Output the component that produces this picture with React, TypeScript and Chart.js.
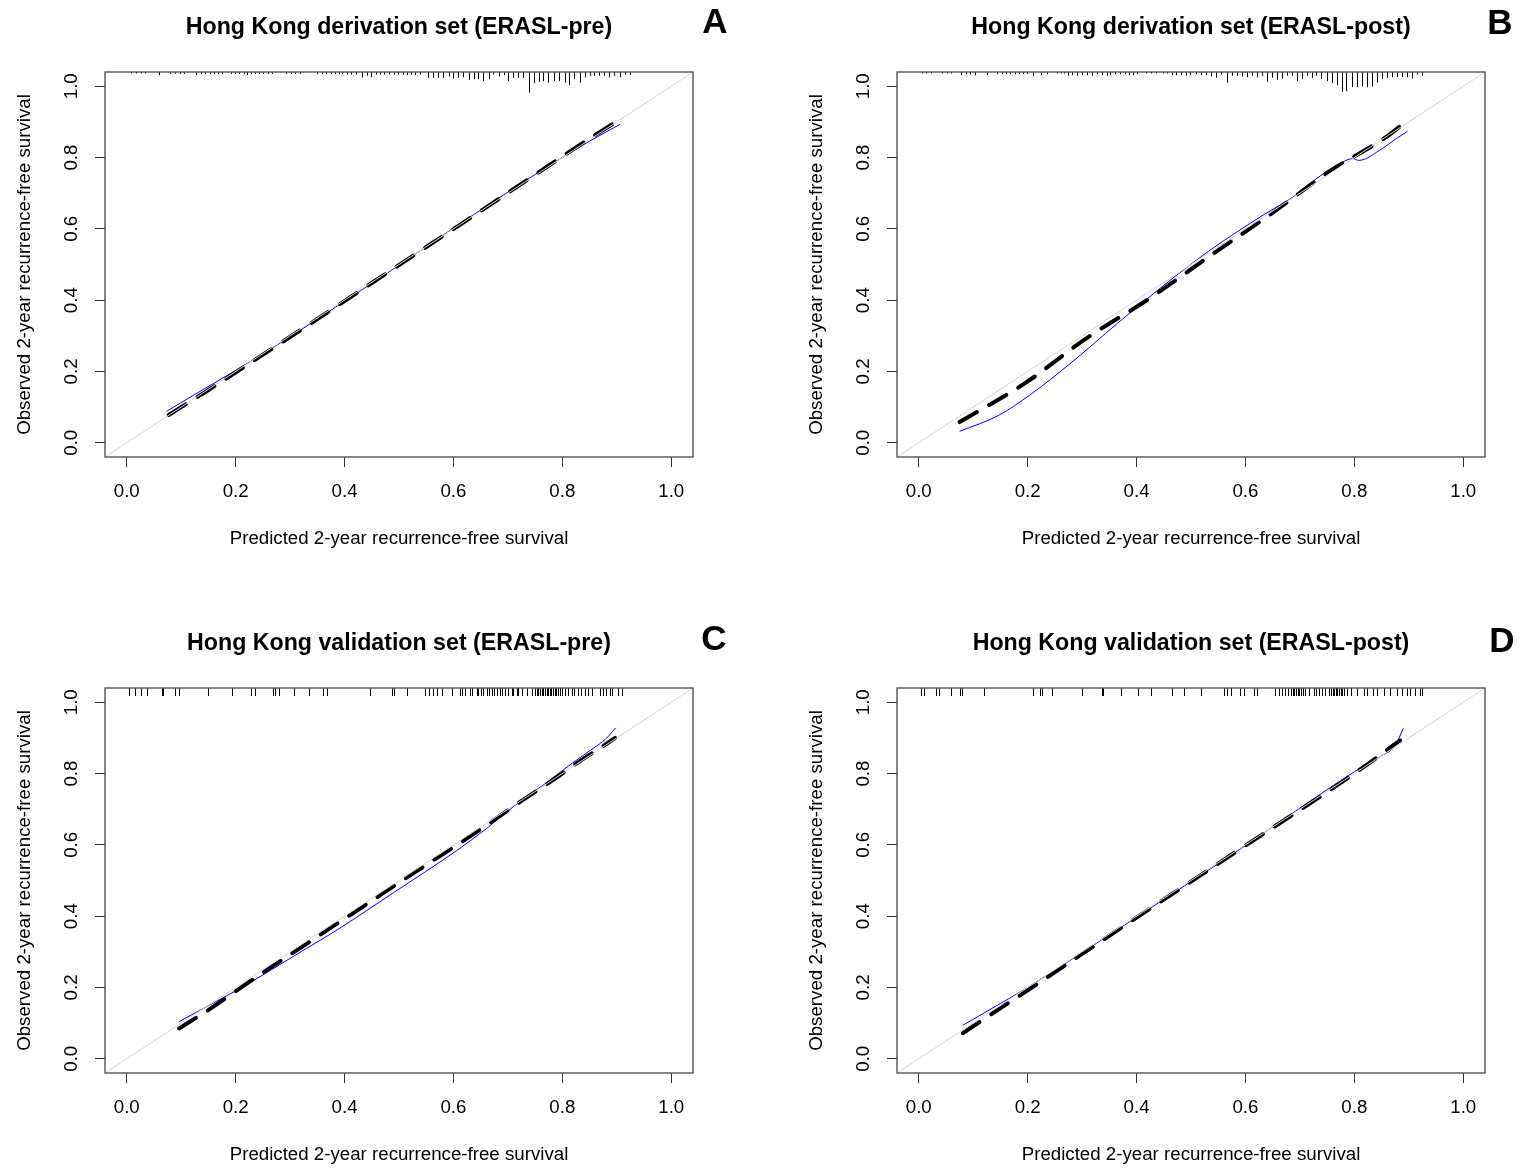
import React, { useEffect, useRef } from 'react';
import { Chart, registerables } from 'chart.js';

Chart.register(...registerables);

// ---------- shared axis data ----------
const AXIS_TICKS = [0, 0.2, 0.4, 0.6, 0.8, 1.0];
const AXIS_MIN = -0.04;
const AXIS_MAX = 1.04;
const X_TITLE = 'Predicted 2-year recurrence-free survival';
const Y_TITLE = 'Observed 2-year recurrence-free survival';

const PANEL_TITLES = [
  'Hong Kong derivation set (ERASL-pre)',
  'Hong Kong derivation set (ERASL-post)',
  'Hong Kong validation set (ERASL-pre)',
  'Hong Kong validation set (ERASL-post)',
];
const PANEL_LETTERS = ['A', 'B', 'C', 'D'];

// ---------- Panel A ----------
const A_DASH_X = [0.077, 0.15, 0.25, 0.35, 0.45, 0.55, 0.65, 0.75, 0.85, 0.906];
const A_DASH_Y = [0.078, 0.148, 0.247, 0.347, 0.448, 0.549, 0.65, 0.752, 0.853, 0.907];
const A_BLUE_X = [0.073, 0.12, 0.2, 0.3, 0.4, 0.5, 0.6, 0.7, 0.77, 0.8, 0.85, 0.906];
const A_BLUE_Y = [0.088, 0.131, 0.203, 0.297, 0.397, 0.498, 0.602, 0.703, 0.772, 0.8, 0.846, 0.893];
const A_RUG_X = [0.007,0.017,0.026,0.034,0.060,0.080,0.088,0.097,0.106,0.127,0.136,0.144,0.152,0.160,0.167,0.174,0.192,0.199,0.207,0.215,0.221,0.229,0.236,0.243,0.251,0.259,0.267,0.293,0.302,0.309,0.319,0.349,0.358,0.366,0.375,0.383,0.389,0.396,0.405,0.412,0.421,0.432,0.441,0.449,0.457,0.465,0.473,0.482,0.490,0.499,0.507,0.515,0.522,0.530,0.539,0.554,0.562,0.571,0.580,0.591,0.600,0.608,0.618,0.628,0.637,0.646,0.655,0.665,0.673,0.683,0.693,0.701,0.710,0.719,0.728,0.739,0.748,0.757,0.765,0.774,0.785,0.794,0.804,0.812,0.822,0.832,0.842,0.850,0.859,0.867,0.876,0.886,0.895,0.906,0.915,0.925];
const A_RUG_FREQ = [1,1,1,1,2.7,1.3,1.3,1.3,1.3,2.7,1.7,1.7,1.7,1.7,1.7,1.7,1.3,1.3,1.3,1.3,2.7,1.7,1.3,1.3,1.3,1.3,1.3,1.3,1.3,1.3,1.3,1.7,1.7,1.7,1.7,1.7,1.7,1.7,2,2,2,4.7,3.3,4.7,2,2,2,2,2,2,2,2.7,2,2.7,2,5.3,5.3,5.3,5.3,4,6,5.3,4.7,7.3,6.7,6.7,8.7,6.7,2,4,2.7,8.7,5.3,5.3,5.3,20,10.7,9.3,8.7,10,8.7,8.7,10,12.7,6.7,10,4.7,3.3,3.3,3.3,3.3,4.7,3.3,4.7,2,2.7];

// ---------- Panel B ----------
const B_DASH_X = [0.075, 0.198, 0.307, 0.423, 0.532, 0.648, 0.757, 0.859, 0.898];
const B_DASH_Y = [0.058, 0.17, 0.292, 0.404, 0.521, 0.643, 0.764, 0.858, 0.905];
const B_BLUE_X = [0.075, 0.147, 0.205, 0.278, 0.365, 0.467, 0.532, 0.583, 0.634, 0.692, 0.735, 0.771, 0.797, 0.808, 0.851, 0.877, 0.898];
const B_BLUE_Y = [0.032, 0.077, 0.135, 0.222, 0.335, 0.462, 0.537, 0.59, 0.64, 0.694, 0.746, 0.781, 0.797, 0.792, 0.825, 0.853, 0.874];
const B_RUG_X = [0.005,0.013,0.022,0.043,0.051,0.060,0.078,0.086,0.094,0.103,0.125,0.143,0.152,0.160,0.168,0.176,0.184,0.192,0.199,0.209,0.225,0.235,0.254,0.262,0.267,0.274,0.282,0.291,0.300,0.309,0.319,0.328,0.336,0.345,0.352,0.361,0.369,0.378,0.386,0.394,0.401,0.418,0.427,0.435,0.449,0.456,0.465,0.473,0.482,0.490,0.498,0.510,0.519,0.527,0.536,0.545,0.555,0.566,0.576,0.585,0.594,0.603,0.612,0.621,0.631,0.640,0.649,0.658,0.667,0.676,0.686,0.695,0.704,0.713,0.722,0.730,0.739,0.749,0.759,0.768,0.777,0.785,0.796,0.805,0.814,0.823,0.832,0.842,0.851,0.860,0.869,0.878,0.887,0.897,0.906,0.915,0.925];
const B_RUG_FREQ = [1,1,1,1,1,1,2.7,1.7,1.7,2.7,2.7,1.7,1.7,1.7,1.7,1.7,1.7,1.7,1.3,3.3,2.7,1.7,1,1,1,3.3,2.7,3.3,2.7,2.7,3.3,1.7,2.7,3.3,2.7,1.7,1.7,1.7,2.7,2.7,1.7,1,1,1,1,1,2.7,2.7,2.7,3.3,2.7,1.7,2.7,2.7,4,5.3,2,10,3.3,3.3,4,4.7,3.3,4.7,3.3,9.3,5.3,7.3,6,3.3,3.3,8.7,6.7,3.3,5.3,3.3,6.7,8.7,10.7,12.7,19.3,18.7,14.7,14.7,14,14.7,14,10,6.7,5.3,4.7,4.7,4.7,4.7,6,2,3.3];

// ---------- Panel C ----------
const C_DASH_X = [0.096, 0.155, 0.211, 0.271, 0.331, 0.383, 0.443, 0.496, 0.549, 0.608, 0.668, 0.721, 0.781, 0.837, 0.872, 0.897];
const C_DASH_Y = [0.085, 0.142, 0.201, 0.263, 0.323, 0.376, 0.436, 0.49, 0.543, 0.601, 0.663, 0.719, 0.78, 0.84, 0.874, 0.9];
const C_BLUE_X = [0.096, 0.155, 0.211, 0.264, 0.323, 0.387, 0.443, 0.492, 0.549, 0.605, 0.661, 0.714, 0.767, 0.819, 0.858, 0.879, 0.898];
const C_BLUE_Y = [0.104, 0.153, 0.2, 0.248, 0.303, 0.362, 0.418, 0.468, 0.525, 0.583, 0.646, 0.712, 0.77, 0.83, 0.872, 0.896, 0.928];
const C_RUG_X = [0.004,0.015,0.027,0.037,0.064,0.067,0.089,0.095,0.149,0.193,0.229,0.236,0.268,0.273,0.279,0.308,0.335,0.361,0.368,0.447,0.487,0.490,0.514,0.548,0.555,0.563,0.569,0.579,0.597,0.612,0.615,0.621,0.631,0.634,0.643,0.646,0.651,0.655,0.661,0.665,0.670,0.675,0.680,0.686,0.690,0.695,0.700,0.707,0.710,0.716,0.719,0.725,0.735,0.744,0.750,0.753,0.756,0.759,0.762,0.765,0.768,0.771,0.774,0.777,0.780,0.783,0.786,0.789,0.792,0.795,0.799,0.805,0.811,0.817,0.822,0.828,0.835,0.842,0.848,0.854,0.869,0.875,0.881,0.887,0.892,0.903,0.909];

// ---------- Panel D ----------
const D_DASH_X = [0.081, 0.15, 0.2, 0.3, 0.4, 0.5, 0.6, 0.7, 0.8, 0.884];
const D_DASH_Y = [0.072, 0.142, 0.192, 0.294, 0.396, 0.497, 0.598, 0.698, 0.8, 0.893];
const D_BLUE_X = [0.081, 0.15, 0.2, 0.3, 0.4, 0.5, 0.6, 0.7, 0.8, 0.85, 0.875, 0.89];
const D_BLUE_Y = [0.094, 0.155, 0.2, 0.298, 0.397, 0.497, 0.598, 0.703, 0.805, 0.85, 0.878, 0.927];
const D_RUG_X = [0.004,0.009,0.031,0.037,0.059,0.076,0.080,0.119,0.209,0.223,0.227,0.245,0.299,0.337,0.339,0.372,0.403,0.427,0.465,0.487,0.519,0.560,0.566,0.573,0.590,0.597,0.615,0.621,0.655,0.661,0.667,0.673,0.679,0.684,0.687,0.690,0.693,0.696,0.699,0.702,0.705,0.710,0.716,0.725,0.729,0.735,0.741,0.747,0.754,0.757,0.760,0.763,0.766,0.769,0.772,0.775,0.778,0.781,0.787,0.793,0.805,0.817,0.823,0.835,0.842,0.854,0.866,0.878,0.887,0.897,0.903,0.912,0.920,0.924];

// ---------- styling ----------
const FONT = '"Liberation Sans", Arial, Helvetica, sans-serif';
const AXIS_FONT_SIZE = 18.7;
const TITLE_FONT_SIZE = 23.2;
const RUG_PX_PER_UNIT = 1;
const RUG_FIXED_LEN = 8;

type PanelProps = {
  idx: number;
  left: number;
  top: number;
  width: number;
  height: number;
  letterX: number;
  letterY: number;
  dashX: number[];
  dashY: number[];
  blueX: number[];
  blueY: number[];
  rugX: number[];
  rugFreq?: number[];
};

const toPts = (xs: number[], ys: number[]) =>
  xs.slice(0, Math.min(xs.length, ys.length)).map((x, i) => ({ x, y: ys[i] }));

function Panel(p: PanelProps) {
  const ref = useRef<HTMLCanvasElement | null>(null);

  useEffect(() => {
    if (!ref.current) return;
    const chartAreaRight = 693;

    const decorPlugin = {
      id: 'decor' + p.idx,
      afterDatasetsDraw(chart: any) {
        const { ctx, chartArea, scales } = chart;
        const xs = scales.x;
        ctx.save();
        ctx.strokeStyle = '#000';
        ctx.lineWidth = 1;
        ctx.beginPath();
        p.rugX.forEach((v, i) => {
          const px = Math.round(xs.getPixelForValue(v)) + 0.5;
          const len = p.rugFreq ? p.rugFreq[i] * RUG_PX_PER_UNIT + 0.5 : RUG_FIXED_LEN;
          ctx.moveTo(px, chartArea.top);
          ctx.lineTo(px, chartArea.top + len);
        });
        ctx.stroke();
        ctx.strokeStyle = '#555';
        ctx.lineWidth = 1.4;
        ctx.strokeRect(chartArea.left, chartArea.top, chartArea.right - chartArea.left, chartArea.bottom - chartArea.top);
        ctx.restore();
      },
      afterDraw(chart: any) {
        const { ctx } = chart;
        ctx.save();
        ctx.fillStyle = '#000';
        ctx.font = 'bold 35px ' + FONT;
        ctx.textAlign = 'center';
        ctx.textBaseline = 'alphabetic';
        ctx.fillText(PANEL_LETTERS[p.idx], p.letterX, p.letterY);
        ctx.restore();
      },
    };

    const setTicks = (axis: any) => {
      axis.ticks = AXIS_TICKS.map((v) => ({ value: v }));
    };

    const chart = new Chart(ref.current, {
      type: 'scatter',
      data: {
        datasets: [
          {
            data: [{ x: AXIS_MIN, y: AXIS_MIN }, { x: AXIS_MAX, y: AXIS_MAX }],
            showLine: true,
            borderColor: '#d6d6d6',
            borderWidth: 1,
            pointRadius: 0,
          },
          {
            data: toPts(p.dashX, p.dashY),
            showLine: true,
            borderColor: '#000',
            borderWidth: 4,
            borderDash: [20, 14],
            borderCapStyle: 'round',
            pointRadius: 0,
            cubicInterpolationMode: 'monotone',
          },
          {
            data: toPts(p.blueX, p.blueY),
            showLine: true,
            borderColor: '#0000ff',
            borderWidth: 1,
            pointRadius: 0,
            cubicInterpolationMode: 'monotone',
          },
        ],
      } as any,
      options: {
        responsive: false,
        animation: false,
        events: [],
        layout: { padding: { left: 0, top: 0, right: p.width - chartAreaRight, bottom: 0 } },
        plugins: {
          legend: { display: false },
          tooltip: { enabled: false },
          title: {
            display: true,
            text: PANEL_TITLES[p.idx],
            fullSize: false,
            color: '#000',
            font: { family: FONT, size: TITLE_FONT_SIZE, weight: 'bold' },
            padding: { top: 13.3, bottom: 30.86 },
          },
        },
        scales: {
          x: {
            type: 'linear',
            min: AXIS_MIN,
            max: AXIS_MAX,
            afterBuildTicks: setTicks,
            afterFit: (s: any) => {
              s.height = p.height - 457;
            },
            border: { display: false },
            grid: { display: true, drawOnChartArea: false, drawTicks: true, tickLength: 10, color: '#333', lineWidth: 1 },
            ticks: {
              autoSkip: false,
              maxRotation: 0,
              minRotation: 0,
              padding: 14,
              color: '#000',
              font: { family: FONT, size: AXIS_FONT_SIZE },
              callback: (v: any) => Number(v).toFixed(1),
            },
            title: {
              display: true,
              text: X_TITLE,
              color: '#000',
              font: { family: FONT, size: AXIS_FONT_SIZE },
              padding: { top: 0, bottom: 3.8 },
            },
          },
          y: {
            type: 'linear',
            min: AXIS_MIN,
            max: AXIS_MAX,
            afterBuildTicks: setTicks,
            afterFit: (s: any) => {
              s.width = 105;
            },
            border: { display: false },
            grid: { display: true, drawOnChartArea: false, drawTicks: true, tickLength: 10, color: '#333', lineWidth: 1 },
            ticks: {
              autoSkip: false,
              minRotation: 90,
              maxRotation: 90,
              crossAlign: 'center',
              padding: 10,
              color: '#000',
              font: { family: FONT, size: AXIS_FONT_SIZE },
              callback: (v: any) => Number(v).toFixed(1),
            },
            title: {
              display: true,
              text: Y_TITLE,
              color: '#000',
              font: { family: FONT, size: AXIS_FONT_SIZE },
              padding: { top: 13.8, bottom: 0 },
            },
          },
        },
      } as any,
      plugins: [decorPlugin],
    });

    return () => chart.destroy();
  }, []);

  return (
    <canvas
      ref={ref}
      width={p.width}
      height={p.height}
      style={{ position: 'absolute', left: p.left, top: p.top, width: p.width, height: p.height, display: 'block' }}
    />
  );
}

export default function App() {
  return (
    <div style={{ position: 'absolute', left: 0, top: 0, width: 1522, height: 1170, overflow: 'hidden', background: '#fff' }}>
      <Panel idx={0} left={0} top={0} width={761} height={554} letterX={715} letterY={32.5}
        dashX={A_DASH_X} dashY={A_DASH_Y} blueX={A_BLUE_X} blueY={A_BLUE_Y} rugX={A_RUG_X} rugFreq={A_RUG_FREQ} />
      <Panel idx={1} left={792} top={0} width={730} height={554} letterX={708} letterY={34}
        dashX={B_DASH_X} dashY={B_DASH_Y} blueX={B_BLUE_X} blueY={B_BLUE_Y} rugX={B_RUG_X} rugFreq={B_RUG_FREQ} />
      <Panel idx={2} left={0} top={616} width={761} height={554} letterX={714} letterY={33.5}
        dashX={C_DASH_X} dashY={C_DASH_Y} blueX={C_BLUE_X} blueY={C_BLUE_Y} rugX={C_RUG_X} />
      <Panel idx={3} left={792} top={616} width={730} height={554} letterX={710} letterY={36}
        dashX={D_DASH_X} dashY={D_DASH_Y} blueX={D_BLUE_X} blueY={D_BLUE_Y} rugX={D_RUG_X} />
    </div>
  );
}
